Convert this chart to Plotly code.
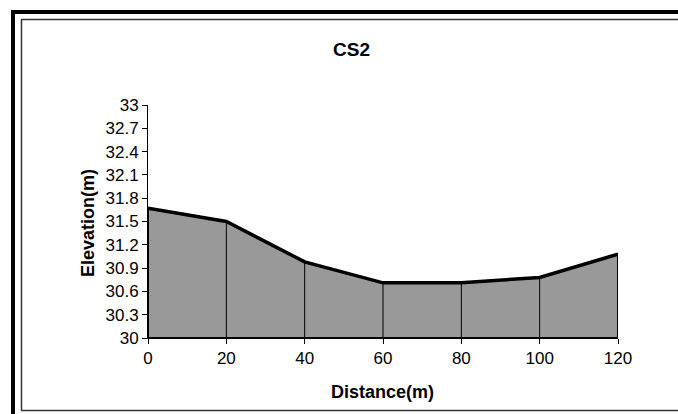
import plotly.graph_objects as go

distance = [0, 20, 40, 60, 80, 100, 120]
elevation = [31.67, 31.50, 30.98, 30.71, 30.71, 30.78, 31.08]
y_ticks = [30, 30.3, 30.6, 30.9, 31.2, 31.5, 31.8, 32.1, 32.4, 32.7, 33]
y_tick_labels = ["30", "30.3", "30.6", "30.9", "31.2", "31.5", "31.8", "32.1", "32.4", "32.7", "33"]
x_ticks = [0, 20, 40, 60, 80, 100, 120]
base = 30

W, H = 678, 414
L, R, T, B = 148, 60, 105, 76
pw, ph = W - L - R, H - T - B

def px(x):
    return (x - L) / pw

def py(y):
    return (H - B - y) / ph

FONT = "Liberation Sans, Arial, sans-serif"

fig = go.Figure()

# filled polygon
poly_x = [distance[0]] + distance + [distance[-1], distance[0]]
poly_y = [base] + elevation + [base, base]
fig.add_trace(go.Scatter(x=poly_x, y=poly_y, fill="toself", fillcolor="#999999",
                         mode="lines", line=dict(color="black", width=2),
                         hoverinfo="skip", showlegend=False))

# vertical drop lines
vx, vy = [], []
for d, e in zip(distance, elevation):
    vx += [d, d, None]
    vy += [base, e, None]
fig.add_trace(go.Scatter(x=vx, y=vy, mode="lines", line=dict(color="black", width=1),
                         hoverinfo="skip", showlegend=False))

# top profile line
fig.add_trace(go.Scatter(x=distance, y=elevation, mode="lines",
                         line=dict(color="black", width=3.5),
                         hoverinfo="skip", showlegend=False))

def seg(x0, y0, x1, y1, color, width):
    return dict(type="line", xref="paper", yref="paper",
                x0=px(x0), y0=py(y0), x1=px(x1), y1=py(y1),
                line=dict(color=color, width=width))

shapes = [
    # outer thick frame (left and top; right and bottom fall outside the view)
    seg(13, 10, 13, 430, "black", 4),
    seg(11, 12, 700, 12, "black", 4),
    # inner thin frame
    seg(21.5, 19.5, 21.5, 410.5, "#333333", 1.5),
    seg(21, 19.5, 700, 19.5, "#333333", 1.5),
    seg(21, 410.5, 700, 410.5, "#333333", 1.5),
]

fig.update_layout(
    width=W, height=H,
    margin=dict(l=L, r=R, t=T, b=B),
    paper_bgcolor="white", plot_bgcolor="white",
    font=dict(family=FONT, size=17, color="black"),
    xaxis=dict(range=[0, 120], tickvals=x_ticks, ticks="outside", ticklen=5,
               tickcolor="black", showline=True, linecolor="black", linewidth=1,
               showgrid=False, zeroline=False, tickfont=dict(size=17)),
    yaxis=dict(range=[30, 33], tickvals=y_ticks, ticktext=y_tick_labels,
               ticks="outside", ticklen=5, tickcolor="black",
               showline=True, linecolor="black", linewidth=1,
               showgrid=False, zeroline=False, tickfont=dict(size=17)),
    annotations=[
        dict(text="<b>CS2</b>", xref="paper", yref="paper", x=px(351), y=py(50),
             xanchor="center", yanchor="middle", showarrow=False,
             font=dict(size=19, family=FONT)),
        dict(text="<b>Distance(m)</b>", xref="paper", yref="paper", x=px(382.5), y=py(392),
             xanchor="center", yanchor="middle", showarrow=False,
             font=dict(size=18, family=FONT)),
        dict(text="<b>Elevation(m)</b>", xref="paper", yref="paper", x=px(88), y=py(223),
             xanchor="center", yanchor="middle", showarrow=False, textangle=-90,
             font=dict(size=18, family=FONT)),
    ],
    shapes=shapes,
)

fig.write_html("out.html", config={"displayModeBar": False},
               post_script="document.documentElement.style.overflow='hidden';"
                           "document.body.style.margin='0';document.body.style.overflow='hidden';")
